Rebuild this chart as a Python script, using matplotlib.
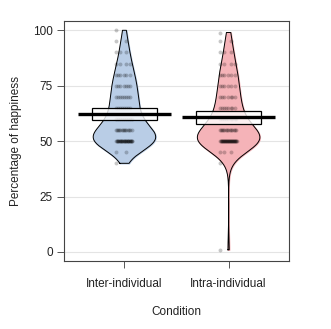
import numpy as np
import matplotlib.pyplot as plt

plt.rcParams['font.family'] = ['Liberation Sans', 'DejaVu Sans']

conditions = ['Inter-individual', 'Intra-individual']
fills = ['#b9cde6', '#f5b3b8']

# happiness ratings (%) and how many participants gave each one
inter_levels = [40, 45, 50, 55, 60, 65, 70, 75, 80, 85, 90, 95, 100]
inter_counts = [1, 2, 30, 14, 9, 8, 8, 7, 6, 4, 3, 2, 1]
intra_levels = [1, 40, 45, 50, 55, 60, 65, 70, 75, 80, 85, 90, 95, 99]
intra_counts = [1, 1, 3, 34, 14, 9, 8, 7, 6, 6, 4, 3, 2, 1]

groups = [np.repeat(inter_levels, inter_counts).astype(float),
          np.repeat(intra_levels, intra_counts).astype(float)]


def bw_nrd0(x):
    iqr = np.subtract(*np.percentile(x, [75, 25]))
    lo = min(np.std(x, ddof=1), iqr / 1.34)
    return 0.9 * lo * len(x) ** -0.2


def kde(x, grid):
    h = bw_nrd0(x)
    z = (grid[:, None] - x[None, :]) / h
    return np.exp(-0.5 * z ** 2).sum(axis=1) / (len(x) * h * np.sqrt(2 * np.pi))


fig = plt.figure(figsize=(3.31, 3.29), dpi=100)
ax = fig.add_axes([0.1934, 0.2067, 0.6798, 0.7295])

for yv in [0, 25, 50, 75, 100]:
    ax.axhline(yv, color='#e4e4e4', lw=0.8, zorder=0)

for i, vals in enumerate(groups):
    xc = i + 1
    grid = np.linspace(vals.min(), vals.max(), 400)
    d = kde(vals, grid)
    d = d / d.max() * 0.30
    ax.fill_betweenx(grid, xc - d, xc + d, color=fills[i], zorder=1)
    ax.plot(np.r_[xc - d, (xc + d)[::-1], xc - d[0]],
            np.r_[grid, grid[::-1], grid[0]], color='black', lw=0.7, zorder=2)

    # jittered raw points
    levels, counts = np.unique(vals, return_counts=True)
    for lv, k in zip(levels, counts):
        offs = 0.08 * (((np.arange(k) * 0.618034) % 1) * 2 - 1)
        ax.scatter(xc + offs, np.full(k, lv), s=8, color='black', alpha=0.22,
                   linewidths=0, zorder=3)

    m = vals.mean()
    half = 1.96 * vals.std(ddof=1) / np.sqrt(len(vals))
    ax.add_patch(plt.Rectangle((xc - 0.315, m - half), 0.63, 2 * half,
                               facecolor='white', alpha=0.8, edgecolor='none', zorder=4))
    ax.add_patch(plt.Rectangle((xc - 0.315, m - half), 0.63, 2 * half,
                               facecolor='none', edgecolor='black', lw=0.9, zorder=5))
    ax.plot([xc - 0.445, xc + 0.445], [m, m], color='black', lw=2.4,
            solid_capstyle='butt', zorder=6)

ax.set_xlim(0.42, 2.58)
ax.set_ylim(-4.06, 104.2)
ax.set_yticks([0, 25, 50, 75, 100])
ax.set_xticks([1, 2])
ax.set_xticklabels(conditions)
ax.tick_params(axis='both', length=5, width=0.7, color='#555555',
               labelsize=8.5, labelcolor='#222222', pad=3)
ax.tick_params(axis='x', pad=7)
for sp in ax.spines.values():
    sp.set_color('#444444')
    sp.set_linewidth(0.8)

ax.set_ylabel('Percentage of happiness', fontsize=8.5, color='#222222', labelpad=8)
ax.set_xlabel('Condition', fontsize=8.5, color='#222222', labelpad=12)

fig.savefig('out.png', dpi=100)
